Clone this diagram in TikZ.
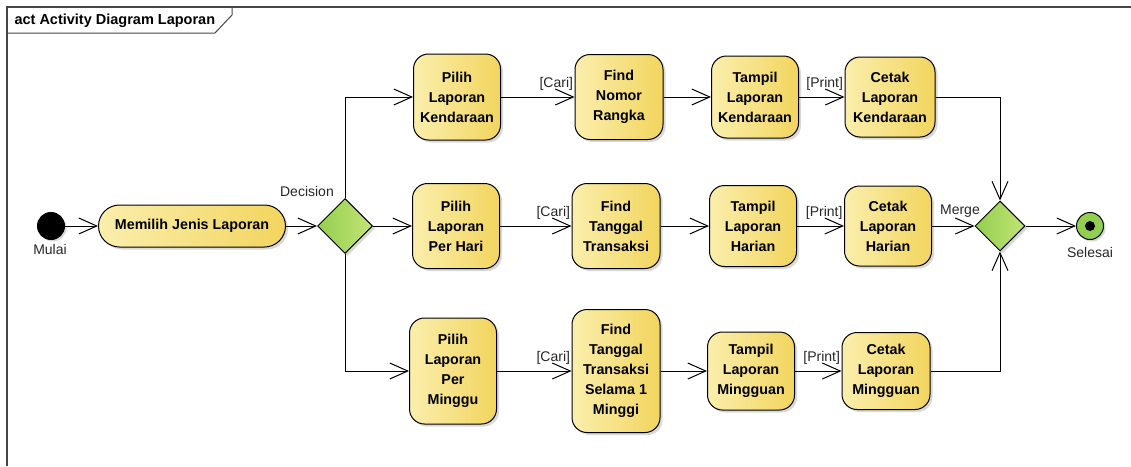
\documentclass[tikz,border=0pt]{standalone}
\usepackage{fontspec}
\setmainfont{Liberation Sans}
\usetikzlibrary{shapes.geometric,arrows.meta,shadows}

\definecolor{actlight}{RGB}{250,238,172}
\definecolor{actdark}{RGB}{242,213,94}
\definecolor{declight}{RGB}{146,206,80}
\definecolor{decdark}{RGB}{196,228,116}
\definecolor{framegray}{RGB}{70,70,70}

\tikzset{
  action/.style={draw, line width=1pt, rounded corners=15pt, align=center,
    font=\bfseries\fontsize{14.3}{20}\selectfont,
    left color=actlight, right color=actdark, inner sep=2pt,
    minimum width=87pt, minimum height=84pt,
    drop shadow={shadow xshift=2.5pt, shadow yshift=-2.5pt, fill=black!25, opacity=0.6}},
  branch/.style={diamond, draw, line width=1pt, inner sep=0pt,
    left color=declight, right color=decdark,
    drop shadow={shadow xshift=2.5pt, shadow yshift=-2.5pt, fill=black!25, opacity=0.6}},
  startnode/.style={circle, draw, line width=1pt, fill=black, inner sep=0pt, minimum size=27pt,
    drop shadow={shadow xshift=2pt, shadow yshift=-2pt, fill=black!25, opacity=0.6}},
  endnode/.style={circle, draw, line width=1pt, fill=declight, inner sep=0pt, minimum size=27pt,
    drop shadow={shadow xshift=2pt, shadow yshift=-2pt, fill=black!25, opacity=0.6}},
  flow/.style={draw, line width=1pt, -{Straight Barb[length=18pt,width=16pt]}},
  guard/.style={font=\fontsize{14}{16}\selectfont, text=black!85, inner sep=1pt},
}

\begin{document}
\begin{tikzpicture}[x=1pt, y=-1pt]
    \useasboundingbox (0,0) rectangle (1131,466);

    % Frame
    \draw[framegray, line width=1.2pt] (7,466) -- (7,7) -- (1131,7);
    \draw[framegray, line width=1pt] (7,33) -- (215,33) -- (232,15) -- (232,7);
    \node[anchor=west, font=\bfseries\fontsize{14.5}{16}\selectfont] (title) at (11,21) {act Activity Diagram Laporan};

    % Start
    \node[startnode] (mulai) at (51,226) {};
    \node[guard] (mulailbl) at (50,249) {Mulai};
    \node[action, rounded corners=21pt, minimum width=187pt, minimum height=42pt] (memilih) at (192,226) {Memilih Jenis Laporan};

    % Decision
    \node[branch, minimum width=55pt, minimum height=55pt] (decision) at (345,226) {};
    \node[guard, anchor=south east] (decisionlbl) at (335,198) {Decision};

    % Kendaraan
    \node[action, minimum height=86pt] (pk) at (457,97) {Pilih\\Laporan\\Kendaraan};
    \node[action, minimum width=88pt, minimum height=85pt] (fn) at (619,97) {Find\\Nomor\\Rangka};
    \node[action, minimum height=82pt] (tk) at (755,97) {Tampil\\Laporan\\Kendaraan};
    \node[action, minimum width=90pt, minimum height=80pt] (ck) at (890,97) {Cetak\\Laporan\\Kendaraan};

    % Harian
    \node[action, minimum height=85pt] (ph) at (456,226) {Pilih\\Laporan\\Per Hari};
    \node[action, minimum width=88pt, minimum height=85pt] (ft) at (616,226) {Find\\Tanggal\\Transaksi};
    \node[action, minimum height=81pt] (th) at (753,226) {Tampil\\Laporan\\Harian};
    \node[action, minimum height=80pt] (ch) at (888,226) {Cetak\\Laporan\\Harian};

    % Mingguan
    \node[action, minimum height=106pt] (pm) at (453,371) {Pilih\\Laporan\\Per\\Minggu};
    \node[action, minimum width=88pt, minimum height=123pt] (fm) at (616,371) {Find\\Tanggal\\Transaksi\\Selama 1\\Minggi};
    \node[action, minimum height=78pt] (tm) at (751,371) {Tampil\\Laporan\\Mingguan};
    \node[action, minimum width=88pt, minimum height=77pt] (cm) at (886,371) {Cetak\\Laporan\\Mingguan};

    % Merge and end
    \node[branch, minimum width=50pt, minimum height=50pt] (merge) at (1000,226) {};
    \node[guard, anchor=south east] (mergelbl) at (981,219) {Merge};
    \node[endnode] (selesai) at (1090,226) {};
    \fill (selesai) circle (5pt);
    \node[guard] (selesailbl) at (1090,252) {Selesai};

    % Flows
    \draw[flow] (mulai) -- (memilih);
    \draw[flow] (memilih) -- (decision);
    \draw[flow] (decision.north) |- (pk.west);
    \draw[flow] (decision) -- (ph);
    \draw[flow] (decision.south) |- (pm.west);

    \draw[flow] (pk) -- node[guard, pos=1, above left, yshift=5pt] (cari1) {[Cari]} (fn);
    \draw[flow] (fn) -- (tk);
    \draw[flow] (tk) -- node[guard, pos=1, above left, yshift=5pt] (print1) {[Print]} (ck);

    \draw[flow] (ph) -- node[guard, pos=1, above left, yshift=5pt] (cari2) {[Cari]} (ft);
    \draw[flow] (ft) -- (th);
    \draw[flow] (th) -- node[guard, pos=1, above left, yshift=5pt] (print2) {[Print]} (ch);

    \draw[flow] (pm) -- node[guard, pos=1, above left, yshift=5pt] (cari3) {[Cari]} (fm);
    \draw[flow] (fm) -- (tm);
    \draw[flow] (tm) -- node[guard, pos=1, above left, yshift=5pt] (print3) {[Print]} (cm);

    \draw[flow] (ck.east) -| (merge.north);
    \draw[flow] (ch) -- (merge);
    \draw[flow] (cm.east) -| (merge.south);
    \draw[flow] (merge) -- (selesai);
\end{tikzpicture}
\end{document}
